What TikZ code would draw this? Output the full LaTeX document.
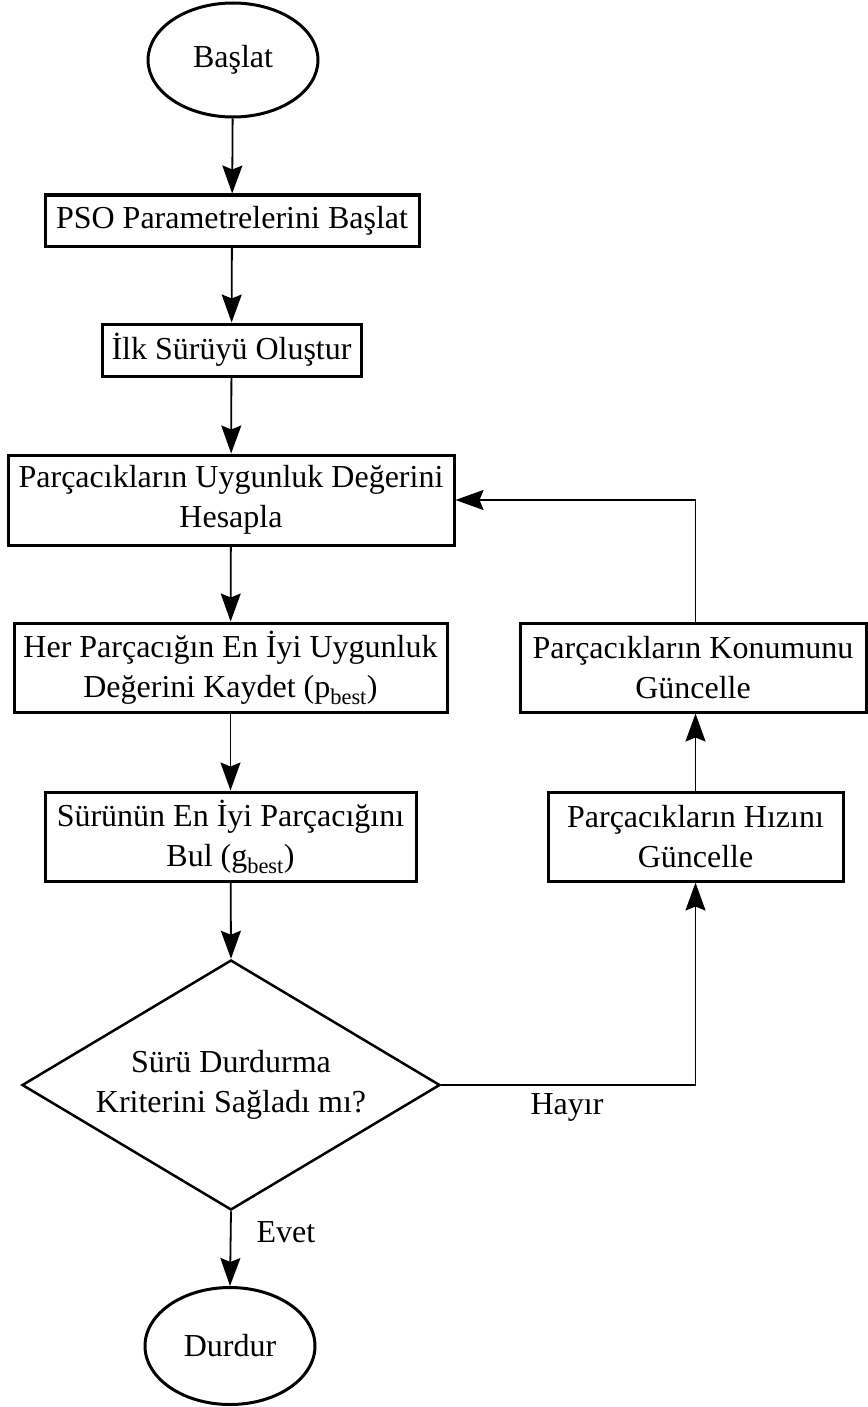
\documentclass[tikz,border=0pt]{standalone}
\usepackage{fontspec}
\setmainfont{Liberation Serif}
\usetikzlibrary{arrows.meta,shapes.geometric}

\begin{document}
\begin{tikzpicture}[x=1pt,y=-1pt,
  every node/.style={font=\fontsize{32}{40}\selectfont, align=center, inner sep=0pt},
  terminal/.style={ellipse, draw, line width=3pt, minimum width=170pt, minimum height=114pt},
  stepbox/.style={rectangle, draw, line width=3pt},
  decision/.style={diamond, draw, line width=2.5pt, aspect=1.672, minimum width=418pt, minimum height=250pt},
  flow/.style={draw, line width=1.8pt, -{Stealth[length=28pt,width=20pt,inset=4pt]}}
]
\useasboundingbox (0,0) rectangle (867,1407);

% main column
\node[terminal] (start) at (233,60) {Başlat};
\node[stepbox, minimum width=374pt, minimum height=51pt] (pso) at (232,220.5) {PSO Parametrelerini Başlat};
\node[stepbox, minimum width=259pt, minimum height=52pt] (ilk) at (231.5,350) {İlk Sürüyü Oluştur};
\node[stepbox, minimum width=446pt, minimum height=90pt] (fit) at (231,500) {Parçacıkların Uygunluk Değerini\\Hesapla};
\node[stepbox, minimum width=433pt, minimum height=89pt] (pbest) at (230.5,667.5) {Her Parçacığın En İyi Uygunluk\\Değerini Kaydet (p\textsubscript{best})};
\node[stepbox, minimum width=371pt, minimum height=89pt] (gbest) at (230.5,836.5) {Sürünün En İyi Parçacığını\\Bul (g\textsubscript{best})};
\node[decision] (dec) at (231,1085) {Sürü Durdurma\\Kriterini Sağladı mı?};
\node[terminal, minimum height=117pt] (stop) at (230,1346) {Durdur};

% update column
\node[stepbox, minimum width=346pt, minimum height=89pt] (pos) at (693,667.5) {Parçacıkların Konumunu\\Güncelle};
\node[stepbox, minimum width=295pt, minimum height=89pt] (vel) at (695.5,836.5) {Parçacıkların Hızını\\Güncelle};

% branch labels
\node (yes) at (286,1232) {Evet};
\node (no) at (567,1107) {Hayır};

% connectors
\draw[flow] (start) -- (pso);
\draw[flow] (pso) -- (ilk);
\draw[flow] (ilk) -- (fit);
\draw[flow] (fit) -- (pbest);
\draw[flow] (pbest) -- (gbest);
\draw[flow] (gbest) -- (dec.north);
\draw[flow] (dec.south) -- (stop.north);
\draw[flow] (dec.east) -| (vel.south);
\draw[flow] (vel.north) -- (vel.north |- pos.south);
\draw[flow] (pos.north -| vel.north) |- (fit.east);
\end{tikzpicture}
\end{document}
